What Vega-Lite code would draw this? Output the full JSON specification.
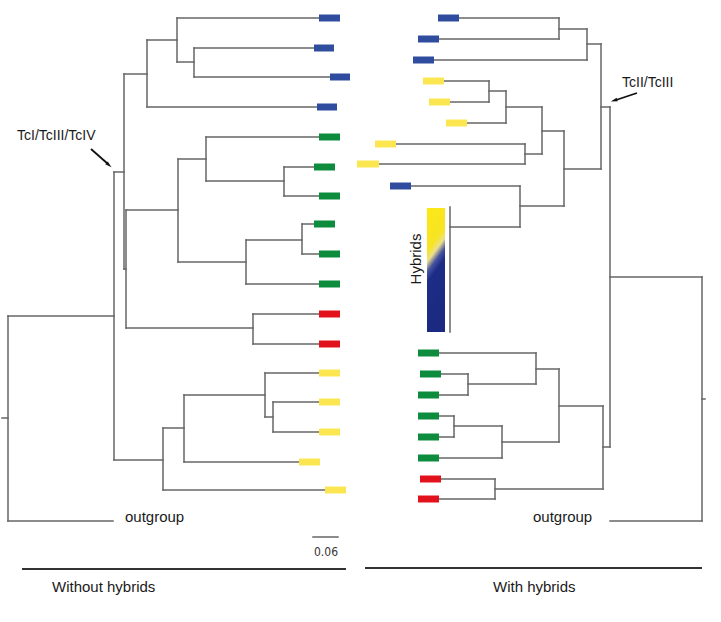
{
  "$schema": "https://vega.github.io/schema/vega-lite/v6.json",
  "width": 721,
  "height": 622,
  "autosize": {"type": "fit", "contains": "padding"},
  "padding": 0,
  "background": "white",
  "config": {"view": {"stroke": null}},
  "datasets": {
    "segs": [
      {"x":177,"y":18,"x2":319,"y2":18},{"x":177,"y":62,"x2":194,"y2":62},{"x":194,"y":48,"x2":314,"y2":48},{"x":194,"y":77,"x2":330,"y2":77},
      {"x":147,"y":40,"x2":177,"y2":40},{"x":147,"y":107,"x2":317,"y2":107},{"x":124,"y":74,"x2":147,"y2":74},{"x":114,"y":172,"x2":124,"y2":172},
      {"x":124,"y":269,"x2":126,"y2":269},{"x":126,"y":210,"x2":178,"y2":210},{"x":178,"y":159,"x2":206,"y2":159},{"x":178,"y":262,"x2":246,"y2":262},
      {"x":206,"y":137,"x2":319,"y2":137},{"x":206,"y":181,"x2":284,"y2":181},{"x":284,"y":167,"x2":314,"y2":167},{"x":284,"y":196,"x2":319,"y2":196},
      {"x":246,"y":240,"x2":302,"y2":240},{"x":246,"y":284,"x2":319,"y2":284},{"x":302,"y":224,"x2":314,"y2":224},{"x":302,"y":254,"x2":319,"y2":254},
      {"x":126,"y":328,"x2":253,"y2":328},{"x":253,"y":314,"x2":319,"y2":314},{"x":253,"y":344,"x2":319,"y2":344},{"x":8,"y":316,"x2":114,"y2":316},
      {"x":114,"y":460,"x2":163,"y2":460},{"x":163,"y":428,"x2":184,"y2":428},{"x":163,"y":490,"x2":325,"y2":490},{"x":184,"y":395,"x2":265,"y2":395},
      {"x":184,"y":462,"x2":299,"y2":462},{"x":265,"y":373,"x2":319,"y2":373},{"x":265,"y":417,"x2":273,"y2":417},{"x":273,"y":402,"x2":319,"y2":402},
      {"x":273,"y":432,"x2":319,"y2":432},{"x":8,"y":521,"x2":113,"y2":521},{"x":2,"y":418,"x2":8,"y2":418},
      {"x":177,"y":18,"x2":177,"y2":62},{"x":194,"y":48,"x2":194,"y2":77},{"x":147,"y":40,"x2":147,"y2":107},{"x":124,"y":74,"x2":124,"y2":269},
      {"x":126,"y":210,"x2":126,"y2":328},{"x":114,"y":172,"x2":114,"y2":460},{"x":178,"y":159,"x2":178,"y2":262},{"x":206,"y":137,"x2":206,"y2":181},
      {"x":284,"y":167,"x2":284,"y2":196},{"x":246,"y":240,"x2":246,"y2":284},{"x":302,"y":224,"x2":302,"y2":254},{"x":253,"y":314,"x2":253,"y2":344},
      {"x":8,"y":316,"x2":8,"y2":521},{"x":163,"y":428,"x2":163,"y2":490},{"x":184,"y":395,"x2":184,"y2":462},{"x":265,"y":373,"x2":265,"y2":417},
      {"x":273,"y":402,"x2":273,"y2":432},
      {"x":459,"y":18,"x2":559,"y2":18},{"x":439,"y":39,"x2":559,"y2":39},{"x":559,"y":29,"x2":587,"y2":29},{"x":434,"y":60,"x2":587,"y2":60},
      {"x":587,"y":44,"x2":601,"y2":44},{"x":564,"y":169,"x2":601,"y2":169},{"x":601,"y":107,"x2":610,"y2":107},{"x":542,"y":131,"x2":564,"y2":131},
      {"x":506,"y":107,"x2":542,"y2":107},{"x":467,"y":123,"x2":506,"y2":123},{"x":489,"y":91,"x2":506,"y2":91},{"x":444,"y":81,"x2":489,"y2":81},
      {"x":450,"y":102,"x2":489,"y2":102},{"x":525,"y":154,"x2":542,"y2":154},{"x":396,"y":144,"x2":525,"y2":144},{"x":379,"y":164,"x2":525,"y2":164},
      {"x":520,"y":206,"x2":564,"y2":206},{"x":411,"y":186,"x2":520,"y2":186},{"x":450,"y":227,"x2":520,"y2":227},{"x":610,"y":277,"x2":702,"y2":277},
      {"x":610,"y":521,"x2":702,"y2":521},{"x":702,"y":399,"x2":705,"y2":399},{"x":603,"y":447,"x2":610,"y2":447},{"x":559,"y":406,"x2":603,"y2":406},
      {"x":536,"y":369,"x2":559,"y2":369},{"x":439,"y":353,"x2":536,"y2":353},{"x":468,"y":384,"x2":536,"y2":384},{"x":441,"y":374,"x2":468,"y2":374},
      {"x":439,"y":395,"x2":468,"y2":395},{"x":502,"y":442,"x2":559,"y2":442},{"x":454,"y":426,"x2":502,"y2":426},{"x":439,"y":458,"x2":502,"y2":458},
      {"x":439,"y":416,"x2":454,"y2":416},{"x":439,"y":437,"x2":454,"y2":437},{"x":495,"y":489,"x2":603,"y2":489},{"x":441,"y":479,"x2":495,"y2":479},
      {"x":439,"y":499,"x2":495,"y2":499},
      {"x":559,"y":18,"x2":559,"y2":39},{"x":587,"y":29,"x2":587,"y2":60},{"x":601,"y":44,"x2":601,"y2":169},{"x":610,"y":107,"x2":610,"y2":447},
      {"x":702,"y":277,"x2":702,"y2":521},{"x":564,"y":131,"x2":564,"y2":206},{"x":542,"y":107,"x2":542,"y2":154},{"x":506,"y":91,"x2":506,"y2":123},
      {"x":489,"y":81,"x2":489,"y2":102},{"x":525,"y":144,"x2":525,"y2":164},{"x":520,"y":186,"x2":520,"y2":227},{"x":450,"y":207,"x2":450,"y2":332},
      {"x":536,"y":353,"x2":536,"y2":384},{"x":468,"y":374,"x2":468,"y2":395},{"x":559,"y":369,"x2":559,"y2":442},{"x":603,"y":406,"x2":603,"y2":489},
      {"x":502,"y":426,"x2":502,"y2":458},{"x":454,"y":416,"x2":454,"y2":437},{"x":495,"y":479,"x2":495,"y2":499},
      {"x":313,"y":537,"x2":338,"y2":537}
    ],
    "tips": [
      {"x":319,"x2":340,"y":18,"g":"blue"},{"x":314,"x2":334,"y":48,"g":"blue"},{"x":330,"x2":350,"y":77,"g":"blue"},{"x":317,"x2":337,"y":107,"g":"blue"},
      {"x":319,"x2":340,"y":137,"g":"green"},{"x":314,"x2":335,"y":167,"g":"green"},{"x":319,"x2":340,"y":196,"g":"green"},{"x":314,"x2":335,"y":224,"g":"green"},
      {"x":319,"x2":340,"y":254,"g":"green"},{"x":319,"x2":340,"y":284,"g":"green"},{"x":319,"x2":340,"y":314,"g":"red"},{"x":319,"x2":340,"y":344,"g":"red"},
      {"x":319,"x2":340,"y":373,"g":"yellow"},{"x":319,"x2":340,"y":402,"g":"yellow"},{"x":319,"x2":340,"y":432,"g":"yellow"},{"x":299,"x2":320,"y":462,"g":"yellow"},
      {"x":325,"x2":346,"y":490,"g":"yellow"},
      {"x":438,"x2":459,"y":18,"g":"blue"},{"x":418,"x2":439,"y":39,"g":"blue"},{"x":413,"x2":434,"y":60,"g":"blue"},{"x":390,"x2":411,"y":186,"g":"blue"},
      {"x":423,"x2":444,"y":81,"g":"yellow"},{"x":429,"x2":450,"y":102,"g":"yellow"},{"x":446,"x2":467,"y":123,"g":"yellow"},{"x":375,"x2":396,"y":144,"g":"yellow"},
      {"x":357,"x2":379,"y":164,"g":"yellow"},
      {"x":418,"x2":439,"y":353,"g":"green"},{"x":420,"x2":441,"y":374,"g":"green"},{"x":418,"x2":439,"y":395,"g":"green"},{"x":418,"x2":439,"y":416,"g":"green"},
      {"x":418,"x2":439,"y":437,"g":"green"},{"x":418,"x2":439,"y":458,"g":"green"},{"x":420,"x2":441,"y":479,"g":"red"},{"x":418,"x2":439,"y":499,"g":"red"}
    ]
  },
  "layer": [
    {
      "data": {"name": "segs"},
      "mark": {"type": "rule", "color": "#666666", "strokeWidth": 1.5, "strokeCap": "square"},
      "encoding": {
        "x": {"field": "x", "type": "quantitative", "scale": {"domain": [0, 721], "nice": false, "zero": false}, "axis": null},
        "y": {"field": "y", "type": "quantitative", "scale": {"domain": [0, 622], "nice": false, "zero": false, "reverse": true}, "axis": null},
        "x2": {"field": "x2"},
        "y2": {"field": "y2"}
      }
    },
    {
      "data": {"values": [{"x":22,"x2":346,"y":569,"w":"a"},{"x":365,"x2":702,"y":568,"w":"b"}]},
      "mark": {"type": "rule", "color": "#333333", "strokeWidth": 1.8},
      "encoding": {
        "x": {"field": "x", "type": "quantitative"},
        "x2": {"field": "x2"},
        "y": {"field": "y", "type": "quantitative"}
      }
    },
    {
      "data": {"name": "tips"},
      "mark": {"type": "rule", "strokeWidth": 7, "strokeCap": "butt"},
      "encoding": {
        "x": {"field": "x", "type": "quantitative"},
        "x2": {"field": "x2"},
        "y": {"field": "y", "type": "quantitative"},
        "color": {"field": "g", "type": "nominal", "legend": null,
          "scale": {"domain": ["blue", "green", "red", "yellow"], "range": ["#2f4c9e", "#0c8c3c", "#e2121c", "#fbe652"]}}
      }
    },
    {
      "data": {"values": [{"x":427,"x2":445,"y":208,"y2":332}]},
      "mark": {"type": "rect", "fill": {"gradient": "linear", "x1": 0, "y1": 0, "x2": 0.2, "y2": 1,
        "stops": [{"offset": 0, "color": "#fbe816"}, {"offset": 0.34, "color": "#f7e424"}, {"offset": 0.42, "color": "#ece08c"},
                  {"offset": 0.5, "color": "#4654a0"}, {"offset": 0.58, "color": "#1d2d86"}, {"offset": 1, "color": "#1b2a80"}]}},
      "encoding": {
        "x": {"field": "x", "type": "quantitative"},
        "x2": {"field": "x2"},
        "y": {"field": "y", "type": "quantitative"},
        "y2": {"field": "y2"}
      }
    },
    {
      "data": {"values": [{"x":91,"y":149,"x2":108,"y2":164},{"x":637,"y":93,"x2":616,"y2":100}]},
      "mark": {"type": "rule", "color": "#111111", "strokeWidth": 1.8},
      "encoding": {
        "x": {"field": "x", "type": "quantitative"},
        "x2": {"field": "x2"},
        "y": {"field": "y", "type": "quantitative"},
        "y2": {"field": "y2"}
      }
    },
    {
      "data": {"values": [{"x":109,"y":165}]},
      "mark": {"type": "point", "shape": "M0,-1L0.55,1L-0.55,1Z", "filled": true, "color": "#111111", "size": 45, "angle": 131, "opacity": 1},
      "encoding": {
        "x": {"field": "x", "type": "quantitative"},
        "y": {"field": "y", "type": "quantitative"}
      }
    },
    {
      "data": {"values": [{"x":614,"y":100.5}]},
      "mark": {"type": "point", "shape": "M0,-1L0.55,1L-0.55,1Z", "filled": true, "color": "#111111", "size": 45, "angle": 252, "opacity": 1},
      "encoding": {
        "x": {"field": "x", "type": "quantitative"},
        "y": {"field": "y", "type": "quantitative"}
      }
    },
    {
      "data": {"values": [{"x":17,"y":136,"t":"TcI/TcIII/TcIV"},{"x":622,"y":83,"t":"TcII/TcIII"}]},
      "mark": {"type": "text", "align": "left", "baseline": "middle", "font": "Liberation Sans", "fontSize": 14, "color": "#1a1a1a"},
      "encoding": {
        "x": {"field": "x", "type": "quantitative"},
        "y": {"field": "y", "type": "quantitative"},
        "text": {"field": "t"}
      }
    },
    {
      "data": {"values": [{"x":125,"y":517,"t":"outgroup"},{"x":533,"y":517,"t":"outgroup"},{"x":52,"y":587,"t":"Without hybrids"},{"x":493,"y":587,"t":"With hybrids"}]},
      "mark": {"type": "text", "align": "left", "baseline": "middle", "font": "Liberation Sans", "fontSize": 15, "color": "#1a1a1a"},
      "encoding": {
        "x": {"field": "x", "type": "quantitative"},
        "y": {"field": "y", "type": "quantitative"},
        "text": {"field": "t"}
      }
    },
    {
      "data": {"values": [{"x":416,"y":259,"t":"Hybrids"}]},
      "mark": {"type": "text", "align": "center", "baseline": "middle", "angle": 270, "font": "Liberation Sans", "fontSize": 15, "color": "#1a1a1a"},
      "encoding": {
        "x": {"field": "x", "type": "quantitative"},
        "y": {"field": "y", "type": "quantitative"},
        "text": {"field": "t"}
      }
    },
    {
      "data": {"values": [{"x":326,"y":552,"t":"0.06"}]},
      "mark": {"type": "text", "align": "center", "baseline": "middle", "font": "Liberation Sans Narrow, DejaVu Sans Condensed, Liberation Sans", "fontSize": 12, "color": "#333333"},
      "encoding": {
        "x": {"field": "x", "type": "quantitative"},
        "y": {"field": "y", "type": "quantitative"},
        "text": {"field": "t"}
      }
    }
  ]
}
